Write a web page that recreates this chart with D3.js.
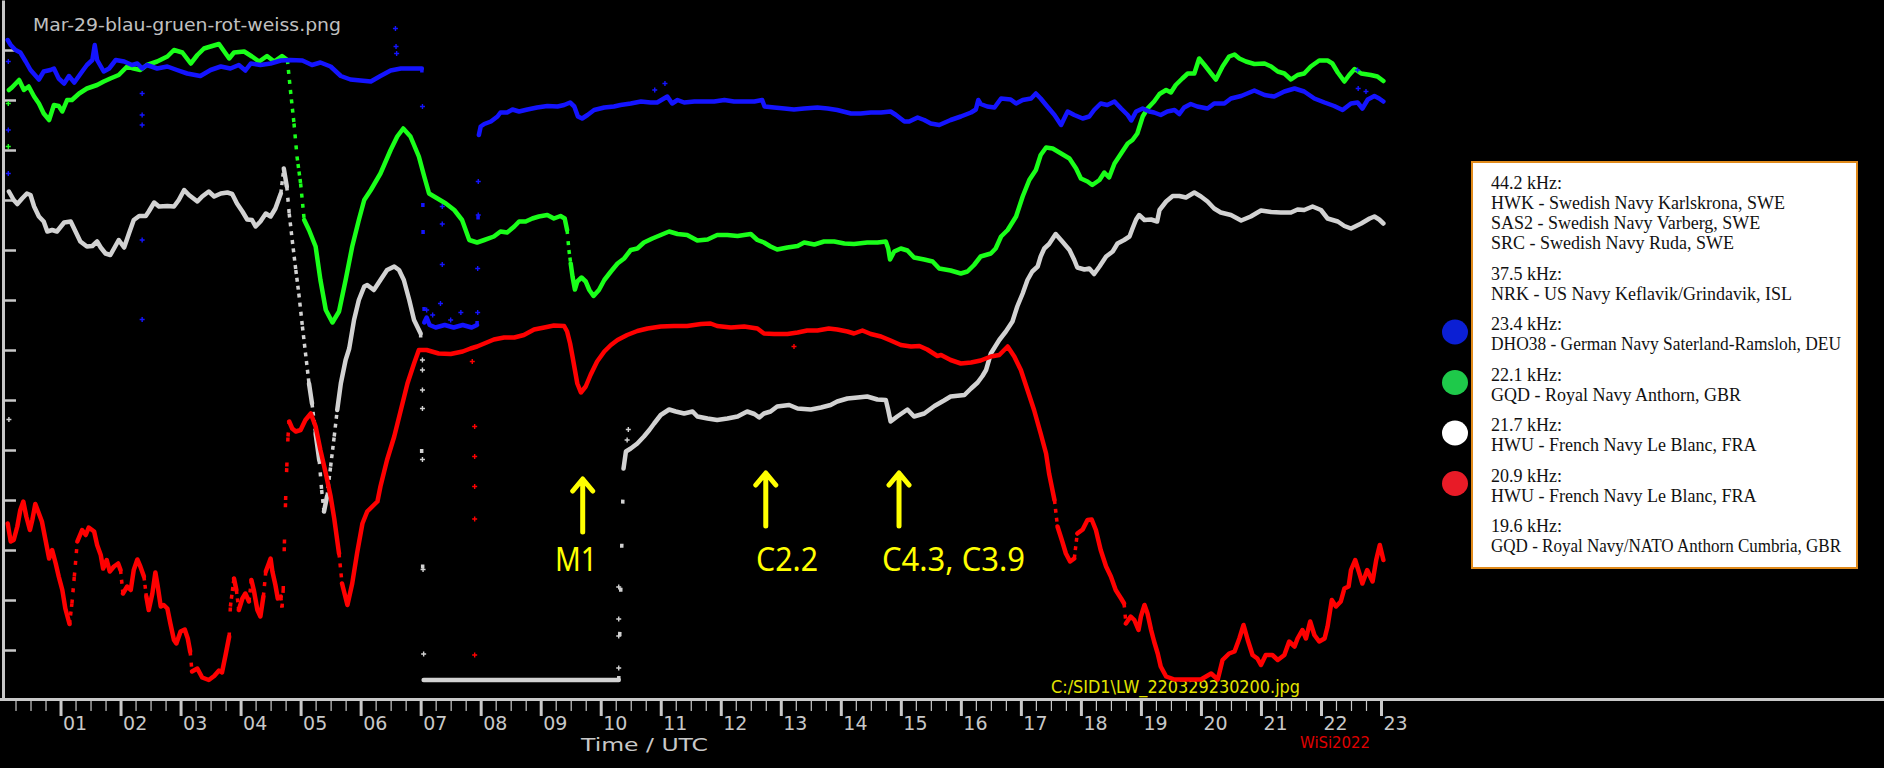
<!DOCTYPE html>
<html><head><meta charset="utf-8">
<script src="https://cdn.jsdelivr.net/npm/d3@7"></script>
<style>html,body{margin:0;padding:0;background:#000;overflow:hidden}</style>
</head><body>
<svg id="chart" width="1884" height="768"></svg>
<script>
// ---------------- DATA ----------------
const titleText = "Mar-29-blau-gruen-rot-weiss.png";
const hourLabels = ["01","02","03","04","05","06","07","08","09","10","11","12","13","14","15","16","17","18","19","20","21","22","23"];

// [hour UTC, relative signal level]
const blueData = [
[0.12,13.2],[0.17,13.1],[0.25,13.0],[0.33,12.95],[0.42,12.77],[0.5,12.6],[0.64,12.41],[0.72,12.57],[0.83,12.6],[0.89,12.63],[0.97,12.43],[1.06,12.33],[1.14,12.48],[1.23,12.35],[1.36,12.57],[1.44,12.7],[1.53,12.8],[1.57,13.1],[1.61,12.8],[1.72,12.57],[1.81,12.63],[1.92,12.8],[2.06,12.77],[2.19,12.7],[2.28,12.73],[2.36,12.63],[2.44,12.7],[2.61,12.63],[2.78,12.67],[2.94,12.6],[3.11,12.53],[3.33,12.48],[3.5,12.6],[3.67,12.67],[3.83,12.63],[3.97,12.7],[4.08,12.59],[4.17,12.73],[4.33,12.7],[4.5,12.73],[4.67,12.79],[4.83,12.8],[5.03,12.79],[5.19,12.7],[5.33,12.75],[5.5,12.67],[5.67,12.48],[5.83,12.41],[6.0,12.39],[6.17,12.37],[6.33,12.48],[6.5,12.59],[6.67,12.63],[6.83,12.63],[7.02,12.63],
[7.04,9.4],[7.06,7.55],[7.1,7.65],[7.15,7.5],[7.25,7.45],[7.4,7.5],[7.55,7.45],[7.7,7.5],[7.85,7.45],[7.94,7.5],
[7.97,11.3],[8.0,11.47],[8.06,11.52],[8.17,11.57],[8.28,11.67],[8.33,11.75],[8.44,11.75],[8.53,11.81],[8.64,11.77],[8.78,11.81],[8.94,11.85],[9.11,11.88],[9.28,11.87],[9.39,11.9],[9.49,11.95],[9.56,11.87],[9.62,11.67],[9.69,11.63],[9.78,11.7],[9.89,11.8],[10.06,11.85],[10.22,11.87],[10.33,11.9],[10.5,11.93],[10.67,11.97],[10.83,11.95],[10.94,11.95],[11.11,12.07],[11.19,11.93],[11.28,12.0],[11.39,11.95],[11.56,11.97],[11.72,11.97],[11.89,11.97],[12.06,12.0],[12.22,11.97],[12.39,11.97],[12.56,11.97],[12.69,12.0],[12.73,11.87],[12.89,11.85],[13.06,11.83],[13.22,11.81],[13.39,11.83],[13.61,11.85],[13.78,11.83],[13.94,11.8],[14.17,11.73],[14.33,11.73],[14.5,11.75],[14.67,11.75],[14.83,11.77],[14.92,11.7],[15.06,11.57],[15.14,11.57],[15.28,11.65],[15.39,11.6],[15.5,11.53],[15.64,11.5],
[15.83,11.6],[16.0,11.67],[16.17,11.75],[16.25,11.81],[16.29,12.0],[16.33,11.92],[16.44,11.87],[16.56,11.85],[16.67,12.03],[16.83,12.01],[16.92,11.93],[17.03,12.0],[17.17,12.03],[17.25,12.13],[17.33,12.03],[17.44,11.87],[17.56,11.7],[17.67,11.5],[17.75,11.7],[17.78,11.77],[17.89,11.7],[18.03,11.63],[18.14,11.67],[18.22,11.8],[18.33,11.93],[18.44,11.9],[18.56,11.97],[18.67,11.83],[18.78,11.7],[18.84,11.59],[18.92,11.77],[19.03,11.83],[19.14,11.77],[19.22,11.75],[19.33,11.7],[19.44,11.77],[19.56,11.8],[19.64,11.72],[19.72,11.85],[19.83,11.92],[19.94,11.87],[20.11,11.83],[20.22,11.93],[20.39,11.93],[20.5,12.03],[20.67,12.08],[20.89,12.19],[21.06,12.1],[21.22,12.07],[21.39,12.17],[21.56,12.23],[21.72,12.17],[21.89,12.03],[22.06,11.95],[22.22,11.88],[22.36,11.8],[22.5,11.93],[22.61,11.95],[22.69,11.83],[22.78,12.01],[22.89,12.08],[22.97,12.03],[23.04,11.97]];

const greenData = [
[0.14,12.2],[0.19,12.25],[0.31,12.4],[0.39,12.2],[0.47,12.27],[0.56,12.07],[0.64,11.93],[0.72,11.73],[0.81,11.6],[0.89,11.9],[0.97,11.88],[1.03,11.77],[1.11,12.0],[1.19,12.0],[1.31,12.13],[1.44,12.23],[1.61,12.3],[1.72,12.37],[1.83,12.43],[1.97,12.5],[2.11,12.67],[2.22,12.63],[2.33,12.6],[2.44,12.7],[2.61,12.77],[2.78,12.87],[2.89,13.0],[3.03,12.95],[3.17,12.73],[3.28,12.9],[3.39,13.03],[3.5,13.07],[3.64,13.12],[3.81,12.83],[3.89,12.95],[4.06,12.97],[4.19,12.87],[4.31,12.77],[4.44,12.88],[4.56,12.77],[4.69,12.88],[4.78,12.8],[4.83,12.2],[4.89,11.53],[4.94,10.87],[5.0,10.33],[5.06,9.6],[5.14,9.4],[5.25,9.07],[5.33,8.4],[5.42,7.8],[5.53,7.55],[5.64,7.77],[5.75,8.4],[5.86,9.07],[5.97,9.6],[6.06,10.0],[6.17,10.2],[6.33,10.53],[6.5,11.0],[6.61,11.27],[6.71,11.43],[6.83,11.27],[6.97,10.87],[7.06,10.47],[7.14,10.13],[7.28,10.03],[7.42,9.93],[7.56,9.8],[7.69,9.6],[7.81,9.2],
[7.94,9.15],[8.06,9.2],[8.22,9.27],[8.33,9.37],[8.44,9.35],[8.56,9.47],[8.64,9.57],[8.75,9.57],[8.86,9.63],[8.97,9.67],[9.11,9.7],[9.22,9.63],[9.33,9.68],[9.4,9.63],[9.44,9.4],[9.47,9.0],[9.5,8.73],[9.53,8.47],[9.57,8.21],[9.61,8.37],[9.68,8.45],[9.75,8.37],[9.81,8.2],[9.88,8.08],[9.97,8.2],[10.06,8.4],[10.17,8.57],[10.28,8.73],[10.39,8.83],[10.5,9.0],[10.61,9.03],[10.72,9.15],[10.86,9.23],[11.0,9.3],[11.14,9.37],[11.28,9.32],[11.44,9.3],[11.61,9.19],[11.78,9.21],[11.94,9.3],[12.11,9.3],[12.28,9.28],[12.5,9.32],[12.61,9.2],[12.72,9.15],[12.83,9.07],[12.94,9.01],[13.11,9.05],[13.28,9.08],[13.39,9.15],[13.56,9.11],[13.72,9.17],[13.89,9.17],[14.06,9.13],[14.22,9.12],[14.44,9.15],[14.61,9.15],[14.75,9.17],[14.79,9.03],[14.82,8.81],[14.89,8.97],[15.0,9.03],[15.11,8.99],[15.22,8.85],[15.39,8.81],[15.53,8.77],[15.64,8.63],
[15.83,8.59],[16.0,8.53],[16.11,8.57],[16.22,8.7],[16.33,8.87],[16.5,8.93],[16.58,9.03],[16.67,9.27],[16.78,9.4],[16.92,9.67],[17.03,10.07],[17.14,10.4],[17.25,10.6],[17.33,10.9],[17.42,11.05],[17.53,11.03],[17.67,10.93],[17.81,10.83],[17.92,10.63],[18.0,10.43],[18.11,10.37],[18.19,10.3],[18.31,10.4],[18.39,10.55],[18.47,10.45],[18.56,10.73],[18.67,10.93],[18.78,11.13],[18.86,11.2],[18.94,11.33],[19.03,11.67],[19.11,11.83],[19.22,11.97],[19.31,12.12],[19.42,12.2],[19.5,12.15],[19.58,12.3],[19.69,12.43],[19.78,12.53],[19.89,12.53],[19.97,12.83],[20.06,12.7],[20.17,12.53],[20.25,12.41],[20.36,12.67],[20.47,12.87],[20.56,12.91],[20.64,12.83],[20.75,12.77],[20.89,12.72],[21.06,12.73],[21.17,12.67],[21.28,12.57],[21.39,12.53],[21.5,12.41],[21.61,12.5],[21.72,12.53],[21.83,12.67],[21.97,12.79],[22.11,12.79],[22.19,12.73],[22.28,12.55],[22.39,12.37],[22.47,12.5],[22.56,12.62],[22.67,12.53],[22.83,12.5],[22.94,12.47],[23.04,12.38]];

const whiteData = [
[0.14,10.17],[0.22,10.0],[0.28,9.92],[0.36,10.03],[0.44,10.13],[0.5,10.1],[0.56,9.87],[0.64,9.67],[0.72,9.57],[0.78,9.37],[0.86,9.4],[0.94,9.37],[1.06,9.55],[1.17,9.57],[1.25,9.37],[1.33,9.17],[1.44,9.07],[1.53,9.08],[1.61,9.17],[1.67,9.05],[1.75,8.93],[1.83,8.9],[1.97,9.2],[2.06,9.05],[2.14,9.33],[2.22,9.6],[2.31,9.68],[2.42,9.68],[2.47,9.77],[2.56,9.95],[2.64,9.87],[2.78,9.88],[2.89,9.87],[2.97,10.0],[3.06,10.2],[3.14,10.1],[3.28,9.97],[3.36,10.07],[3.47,10.17],[3.56,10.07],[3.67,10.13],[3.78,10.15],[3.86,10.12],[3.94,9.93],[4.03,9.77],[4.11,9.61],[4.19,9.6],[4.25,9.47],[4.33,9.57],[4.42,9.73],[4.5,9.67],[4.58,9.83],[4.64,10.03],[4.67,10.13],[4.72,10.63],[4.77,10.27],[4.81,9.73],[4.86,9.2],[4.92,8.6],[4.97,8.13],[5.03,7.47],[5.14,6.33],[5.19,5.93],[5.25,5.33],[5.31,4.8],[5.35,4.2],[5.39,3.77],[5.44,4.07],[5.5,4.67],[5.56,5.27],[5.61,5.8],[5.67,6.33],[5.75,6.8],[5.81,7.03],[5.89,7.6],[5.97,8.0],[6.06,8.27],[6.11,8.3],[6.22,8.2],[6.33,8.4],[6.44,8.6],[6.56,8.67],[6.64,8.6],[6.72,8.4],[6.81,8.0],[6.89,7.6],[7.0,7.33],
[7.05,0.4],[10.3,0.4],
[10.38,4.63],[10.42,4.97],[10.5,5.03],[10.61,5.13],[10.72,5.27],[10.81,5.4],[10.89,5.53],[11.0,5.7],[11.14,5.81],[11.25,5.77],[11.39,5.73],[11.53,5.77],[11.61,5.67],[11.78,5.63],[11.94,5.6],[12.11,5.63],[12.28,5.67],[12.44,5.77],[12.56,5.72],[12.64,5.65],[12.72,5.73],[12.83,5.77],[12.94,5.87],[13.14,5.9],[13.28,5.83],[13.5,5.81],[13.67,5.85],[13.83,5.9],[13.94,5.97],[14.11,6.03],[14.28,6.05],[14.44,6.07],[14.61,6.01],[14.75,6.0],[14.79,5.8],[14.83,5.57],[14.94,5.67],[15.11,5.81],[15.22,5.67],[15.39,5.73],[15.56,5.88],[15.72,5.99],[15.83,6.07],[16.06,6.1],[16.17,6.23],[16.28,6.35],[16.36,6.48],[16.42,6.6],
[16.5,6.93],[16.64,7.2],[16.75,7.37],[16.86,7.57],[16.94,7.87],[17.03,8.13],[17.11,8.4],[17.19,8.57],[17.28,8.67],[17.33,8.87],[17.39,9.03],[17.47,9.12],[17.58,9.32],[17.69,9.17],[17.81,9.0],[17.89,8.8],[17.94,8.65],[18.06,8.61],[18.14,8.63],[18.22,8.52],[18.31,8.67],[18.42,8.87],[18.53,8.97],[18.61,9.13],[18.72,9.2],[18.81,9.27],[18.86,9.43],[18.92,9.61],[18.97,9.7],[19.06,9.6],[19.17,9.61],[19.27,9.57],[19.31,9.8],[19.42,9.97],[19.53,10.08],[19.64,10.08],[19.75,10.05],[19.89,10.15],[20.0,10.07],[20.11,9.97],[20.22,9.83],[20.33,9.75],[20.5,9.7],[20.67,9.59],[20.83,9.67],[21.0,9.79],[21.17,9.76],[21.33,9.75],[21.5,9.75],[21.61,9.81],[21.72,9.8],[21.86,9.87],[22.0,9.8],[22.11,9.63],[22.28,9.57],[22.39,9.48],[22.5,9.43],[22.67,9.53],[22.81,9.63],[22.89,9.67],[22.97,9.61],[23.04,9.53]];

const redData = [
[0.12,3.53],[0.17,3.17],[0.22,3.2],[0.28,3.47],[0.33,3.8],[0.38,3.97],[0.43,3.67],[0.49,3.4],[0.53,3.6],[0.58,3.92],[0.64,3.73],[0.69,3.57],[0.75,3.2],[0.81,2.83],[0.86,3.0],[0.92,2.73],[0.97,2.47],[1.03,2.2],[1.08,1.83],[1.15,1.52],[1.19,1.93],[1.23,2.47],[1.28,3.17],[1.36,3.4],[1.42,3.3],[1.47,3.45],[1.56,3.37],[1.61,3.1],[1.67,2.9],[1.71,2.63],[1.77,2.8],[1.82,2.57],[1.89,2.67],[1.96,2.73],[2.0,2.6],[2.04,2.13],[2.11,2.27],[2.17,2.2],[2.22,2.6],[2.28,2.81],[2.33,2.67],[2.39,2.47],[2.43,2.07],[2.47,1.8],[2.53,2.13],[2.58,2.55],[2.62,2.27],[2.67,1.87],[2.72,1.9],[2.78,1.83],[2.83,1.53],[2.89,1.2],[2.93,1.13],[3.0,1.37],[3.07,1.41],[3.12,1.23],[3.16,0.97],[3.19,0.57],[3.28,0.63],[3.36,0.45],[3.47,0.4],[3.56,0.48],[3.64,0.59],[3.69,0.55],[3.75,0.9],[3.81,1.27],[3.83,1.87],[3.89,2.43],[3.93,2.2],[3.97,1.8],[4.03,2.03],[4.08,2.13],[4.14,1.97],[4.18,2.4],[4.22,2.2],[4.28,1.8],[4.33,1.67],[4.38,2.07],[4.42,2.57],[4.47,2.73],[4.5,2.83],[4.53,2.57],[4.58,2.3],[4.62,2.03],[4.67,2.07],[4.69,1.85],
[4.71,2.2],[4.73,3.13],[4.75,4.0],[4.77,4.67],[4.79,5.27],[4.81,5.57],[4.86,5.43],[4.92,5.37],[5.0,5.4],[5.08,5.6],[5.17,5.73],[5.25,5.47],[5.33,5.0],[5.42,4.53],[5.5,4.07],[5.56,3.63],[5.64,2.93],[5.69,2.33],[5.78,1.9],[5.86,2.33],[5.94,2.93],[6.03,3.53],[6.11,3.77],[6.22,3.9],[6.28,3.97],[6.33,4.27],[6.44,4.8],[6.56,5.27],[6.67,5.8],[6.78,6.33],[6.89,6.73],[6.97,7.0],[7.1,7.0],[7.3,6.93],[7.5,6.92],[7.7,6.97],
[7.83,7.03],[7.94,7.07],[8.06,7.13],[8.22,7.21],[8.39,7.25],[8.56,7.25],[8.72,7.3],[8.89,7.41],[9.06,7.45],[9.22,7.49],[9.39,7.48],[9.44,7.37],[9.49,7.13],[9.53,6.87],[9.57,6.6],[9.61,6.33],[9.67,6.15],[9.75,6.27],[9.83,6.5],[9.94,6.77],[10.06,6.97],[10.17,7.1],[10.28,7.2],[10.44,7.3],[10.61,7.38],[10.78,7.43],[11.0,7.47],[11.22,7.48],[11.44,7.48],[11.67,7.52],[11.83,7.53],[11.94,7.48],[12.17,7.45],[12.39,7.47],[12.61,7.43],[12.72,7.33],[12.89,7.32],[13.11,7.32],[13.28,7.35],[13.44,7.39],[13.61,7.39],[13.8,7.43],[13.94,7.41],[14.11,7.37],[14.22,7.33],[14.36,7.39],[14.5,7.32],[14.67,7.27],[14.83,7.19],[15.0,7.1],[15.17,7.07],[15.31,7.08],[15.44,7.01],[15.61,6.88],
[15.67,6.9],[15.83,6.8],[16.0,6.73],[16.17,6.75],[16.33,6.79],[16.5,6.87],[16.64,6.9],[16.78,7.07],[16.89,6.87],[17.0,6.6],[17.11,6.2],[17.22,5.8],[17.33,5.33],[17.42,4.93],[17.47,4.53],[17.56,4.0],[17.61,3.47],[17.69,3.17],[17.75,2.93],[17.82,2.77],[17.89,2.83],[17.94,3.33],[18.03,3.41],[18.11,3.6],[18.18,3.61],[18.25,3.4],[18.33,3.0],[18.42,2.67],[18.5,2.47],[18.58,2.2],[18.67,2.03],[18.72,1.93],[18.75,1.53],[18.83,1.67],[18.89,1.6],[18.96,1.4],[19.0,1.67],[19.06,1.9],[19.11,1.73],[19.17,1.4],[19.22,1.17],[19.28,0.93],[19.33,0.67],[19.42,0.47],[19.56,0.41],[19.78,0.41],[20.0,0.41],[20.17,0.53],[20.28,0.41],[20.36,0.8],[20.47,0.93],[20.56,0.97],[20.64,1.23],[20.71,1.5],[20.78,1.2],[20.86,0.9],[20.94,0.83],[21.0,0.7],[21.08,0.9],[21.19,0.9],[21.28,0.8],[21.39,0.9],[21.47,1.17],[21.56,1.07],[21.61,1.23],[21.69,1.4],[21.75,1.23],[21.82,1.57],[21.89,1.3],[21.97,1.17],[22.06,1.23],[22.11,1.47],[22.18,2.0],[22.25,1.87],[22.33,1.97],[22.39,2.23],[22.46,2.27],[22.5,2.6],[22.57,2.8],[22.64,2.53],[22.69,2.33],[22.77,2.6],[22.86,2.37],[22.92,2.8],[22.98,3.1],[23.04,2.8]];

// isolated samples (outliers / sparse transitions)
const blueSpikes = [[0.13,12.77],[0.13,11.4],[0.13,10.53],[2.36,12.13],[2.36,11.7],[2.36,11.5],[2.36,9.2],[2.36,7.61],[6.58,13.43],[6.59,13.07],[6.6,12.93],[7.03,11.87],[7.1,7.8],[7.2,7.7],[7.33,7.93],[7.36,9.87],[7.36,9.52],[7.36,8.71],[7.5,7.6],[7.67,7.75],[7.95,8.63],[7.95,7.75],[7.96,9.7],[7.96,10.37],[10.9,12.2],[11.07,12.33],[22.61,12.6],[22.62,12.23],[22.75,12.17]];
const greenSpikes = [[0.13,11.93],[0.13,11.07]];
const whiteSpikes = [[0.14,5.61],[7.03,6.8],[7.03,6.6],[7.03,6.2],[7.03,5.83],[7.03,4.81],[7.04,2.61],[7.05,0.92],[10.3,0.64],[10.3,1.28],[10.3,1.62],[10.3,2.26],[10.44,5.2],[10.46,5.41]];
const redSpikes = [[7.86,6.77],[7.9,5.47],[7.9,4.87],[7.9,4.27],[7.9,3.62],[7.9,0.9],[13.22,7.07]];

const flareLabels = ["M1","C2.2","C4.3, C3.9"];
const flareTimes = [9.7, 12.75, 14.97];

const legendHeads = ["44.2 kHz:","37.5 kHz:","23.4 kHz:","22.1 kHz:","21.7 kHz:","20.9 kHz:","19.6 kHz:"];
const legendLines = [
  ["HWK - Swedish Navy Karlskrona, SWE","SAS2 - Swedish Navy Varberg, SWE","SRC - Swedish Navy Ruda, SWE"],
  ["NRK - US Navy Keflavik/Grindavik, ISL"],
  ["DHO38 - German Navy Saterland-Ramsloh, DEU"],
  ["GQD - Royal Navy Anthorn, GBR"],
  ["HWU - French Navy Le Blanc, FRA"],
  ["HWU - French Navy Le Blanc, FRA"],
  ["GQD - Royal Navy/NATO Anthorn Cumbria, GBR"]
];
const legendDots = [null, null, "#0b1fd4", "#1ec94a", "#ffffff", "#e81b27", null];

const fileText = "C:/SID1\\LW_220329230200.jpg";
const axisTitle = "Time / UTC";
const signature = "WiSi2022";

// ---------------- DRAW ----------------
const W = 1884, H = 768;
const svg = d3.select("#chart");
svg.append("rect").attr("width", W).attr("height", H).attr("fill", "#000");

const x = d3.scaleLinear().domain([0, 23]).range([0.5, 1381]);
const y = d3.scaleLinear().domain([0, 14]).range([700, 0]);
const axisColor = "#c8c8c8";

// title
svg.append("text").attr("x", 33).attr("y", 31)
  .attr("font-family", "DejaVu Sans, sans-serif").attr("font-size", 17)
  .attr("fill", "#c0c0c0").attr("textLength", 308).attr("lengthAdjust", "spacingAndGlyphs")
  .text(titleText);

// y axis (no labels)
const yAx = svg.append("g").attr("transform", "translate(3,0)")
  .call(d3.axisRight(y).tickValues(d3.range(1, 14)).tickSize(13).tickSizeOuter(0).tickFormat(""));
yAx.select(".domain").attr("stroke", axisColor).attr("stroke-width", 3);
yAx.selectAll(".tick line").attr("stroke", axisColor).attr("stroke-width", 2.5);

// x axis
const minorTicks = d3.range(1, 93).map(i => i / 4).filter(t => t % 1 !== 0);
const xMinor = svg.append("g").attr("transform", "translate(0,700)")
  .call(d3.axisBottom(x).tickValues(minorTicks).tickSize(11).tickFormat(""));
xMinor.select(".domain").remove();
xMinor.selectAll(".tick line").attr("stroke", axisColor).attr("stroke-width", 1.2);

const xMajor = svg.append("g").attr("transform", "translate(0,700)")
  .call(d3.axisBottom(x).tickValues(d3.range(1, 24)).tickSize(16).tickFormat(d => hourLabels[d - 1]));
xMajor.select(".domain").remove();
xMajor.selectAll(".tick line").attr("stroke", axisColor).attr("stroke-width", 3);
xMajor.selectAll(".tick text").attr("fill", axisColor).attr("x", 2).attr("y", 30).attr("dy", 0)
  .attr("text-anchor", "start").attr("font-family", "DejaVu Sans, sans-serif").attr("font-size", 19);

svg.append("line").attr("x1", 0).attr("x2", W).attr("y1", 699.5).attr("y2", 699.5)
  .attr("stroke", axisColor).attr("stroke-width", 3);

svg.append("text").attr("x", 581).attr("y", 751).attr("fill", axisColor)
  .attr("font-family", "DejaVu Sans, sans-serif").attr("font-size", 17)
  .attr("textLength", 127).attr("lengthAdjust", "spacingAndGlyphs").text(axisTitle);
svg.append("text").attr("x", 1300).attr("y", 748).attr("fill", "#e00000")
  .attr("font-family", "DejaVu Sans, sans-serif").attr("font-size", 16)
  .attr("textLength", 70).attr("lengthAdjust", "spacingAndGlyphs").text(signature);
svg.append("text").attr("x", 1051).attr("y", 693).attr("fill", "#e4e400")
  .attr("font-family", "DejaVu Sans, sans-serif").attr("font-size", 17)
  .attr("textLength", 249).attr("lengthAdjust", "spacingAndGlyphs").text(fileText);

// series
const lineGen = d3.line();
function drawSeries(data, color, spikes) {
  const g = svg.append("g");
  const pts = data.map(d => [x(d[0]), y(d[1])]);
  const runs = [], dashed = [];
  let run = [pts[0]];
  for (let i = 1; i < pts.length; i++) {
    const a = pts[i - 1], b = pts[i];
    const dx = Math.abs(b[0] - a[0]), dy = Math.abs(b[1] - a[1]);
    const len = Math.hypot(dx, dy);
    const spacing = len / Math.max(dx, 0.6);
    if (spacing > 7.5) {
      if (run.length > 1) runs.push(run);
      dashed.push({ a, b, spacing });
      run = [b];
    } else run.push(b);
  }
  if (run.length > 1) runs.push(run);
  g.selectAll("path.run").data(runs).join("path").attr("class", "run")
    .attr("d", lineGen).attr("fill", "none").attr("stroke", color)
    .attr("stroke-width", 4.5).attr("stroke-linejoin", "round").attr("stroke-linecap", "round");
  g.selectAll("line.dash").data(dashed).join("line").attr("class", "dash")
    .attr("x1", d => d.a[0]).attr("y1", d => d.a[1]).attr("x2", d => d.b[0]).attr("y2", d => d.b[1])
    .attr("stroke", color).attr("stroke-width", 3.5)
    .attr("stroke-dasharray", d => `4,${Math.max(2, d.spacing - 4).toFixed(1)}`);
  g.selectAll("path.spk").data(spikes).join("path").attr("class", "spk")
    .attr("transform", d => `translate(${x(d[0])},${y(d[1])})`)
    .attr("d", "M-2.5,0H2.5M0,-2.5V2.5").attr("stroke", color).attr("stroke-width", 1.4);
}
drawSeries(whiteData, "#d2d2d2", whiteSpikes);
drawSeries(redData, "#ff0000", redSpikes);
drawSeries(greenData, "#1aff1a", greenSpikes);
drawSeries(blueData, "#1414ff", blueSpikes);

// flare annotations
const ann = svg.append("g");
flareTimes.forEach((t, i) => {
  const ax = x(t);
  const tip = i === 0 ? 478 : 472;
  ann.append("path")
    .attr("d", `M${ax},${tip + 54}V${tip + 2}M${ax - 10},${tip + 13}L${ax},${tip + 1}L${ax + 10},${tip + 13}`)
    .attr("fill", "none").attr("stroke", "#ffff00").attr("stroke-width", 5)
    .attr("stroke-linecap", "round").attr("stroke-linejoin", "round");
});
const labelX = [555, 756, 882];
const labelW = [42, 62, 143];
flareLabels.forEach((s, i) => {
  ann.append("text").attr("x", labelX[i]).attr("y", 571).attr("fill", "#ffff00")
    .attr("font-family", "Noto Sans, sans-serif").attr("font-size", 32)
    .attr("textLength", labelW[i]).attr("lengthAdjust", "spacingAndGlyphs").text(s);
});

// legend
const lg = svg.append("g");
lg.append("rect").attr("x", 1472).attr("y", 162).attr("width", 385).attr("height", 406)
  .attr("fill", "#fff").attr("stroke", "#e08a1a").attr("stroke-width", 2);
const maxTextW = 350;
function fitText(sel) {
  const w = sel.node().getComputedTextLength();
  if (w > maxTextW) sel.attr("textLength", maxTextW).attr("lengthAdjust", "spacingAndGlyphs");
}
let base = 189;
legendHeads.forEach((h, i) => {
  lg.append("text").attr("x", 1491).attr("y", base).attr("font-family", "Liberation Serif, Times New Roman, serif")
    .attr("font-size", 18).attr("fill", "#111").text(h);
  if (legendDots[i]) {
    lg.append("ellipse").attr("cx", 1455).attr("cy", base + 2).attr("rx", 13).attr("ry", 12.5)
      .attr("fill", legendDots[i]);
  }
  legendLines[i].forEach((l, j) => {
    const t = lg.append("text").attr("x", 1491).attr("y", base + 20 * (j + 1))
      .attr("font-family", "Liberation Serif, Times New Roman, serif")
      .attr("font-size", 18).attr("fill", "#111").text(l);
    fitText(t);
  });
  base += 20 * legendLines[i].length + 30.5;
});
</script>
</body></html>
